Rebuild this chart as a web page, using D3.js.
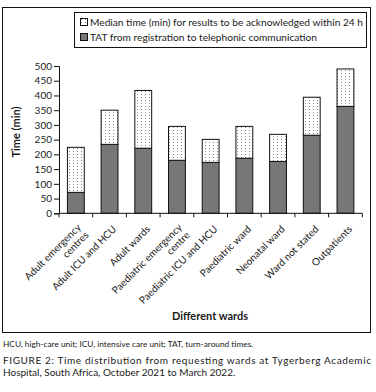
<!DOCTYPE html>
<html>
<head>
<meta charset="utf-8">
<script src="https://cdn.jsdelivr.net/npm/d3@7"></script>
<style>
  body { margin: 0; background: #fff; }
  text { font-family: Lato, "Open Sans", sans-serif; fill: #1a1a1a; }
</style>
</head>
<body>
<div id="chart-area"></div>
<script>
// data
const wards = [
  ["Adult emergency", "centres"],
  ["Adult ICU and HCU"],
  ["Adult wards"],
  ["Paediatric emergency", "centre"],
  ["Paediatric ICU and HCU"],
  ["Paediatric ward"],
  ["Neonatal ward"],
  ["Ward not stated"],
  ["Outpatients"]
];
const tatValues = [71, 234, 221, 180, 173, 187, 176, 265, 363];
const medianValues = [153, 116, 196, 115, 78, 108, 92, 129, 127];
const yTicks = [0, 50, 100, 150, 200, 250, 300, 350, 400, 450, 500];
const legendLabels = [
  "Median time (min) for results to be acknowledged within 24 h",
  "TAT from registration to telephonic communication"
];

const full_width = 376, full_height = 392;

const svg = d3.select("#chart-area")
    .append("svg")
    .attr("width", full_width)
    .attr("height", full_height);

svg.append("rect").attr("width", full_width).attr("height", full_height).attr("fill", "#fff");

// dotted pattern
const pat = svg.append("defs").append("pattern")
    .attr("id", "dots")
    .attr("patternUnits", "userSpaceOnUse")
    .attr("width", 4).attr("height", 3);
pat.append("rect").attr("width", 4).attr("height", 3).attr("fill", "#fff");
pat.append("rect").attr("x", 1).attr("y", 1).attr("width", 1).attr("height", 1).attr("fill", "#8a8a8a");

// outer frame
svg.append("rect")
    .attr("x", 2.5).attr("y", 7.5)
    .attr("width", 368).attr("height", 325)
    .attr("fill", "none").attr("stroke", "#111");

const keys = wards.map(d => d.join(" "));
const data = keys.map((k, i) => ({ ward: k, tat: tatValues[i], median: medianValues[i] }));

const x = d3.scaleBand()
    .domain(keys)
    .range([59, 362.3])
    .paddingInner(0.5)
    .paddingOuter(0.25);

const y = d3.scaleLinear()
    .domain([0, 500])
    .range([213.3, 66]);

const stack = d3.stack().keys(["tat", "median"]);
const series = stack(data);
const fills = { tat: "#777777", median: "url(#dots)" };

svg.append("g").selectAll("g")
    .data(series)
    .enter().append("g")
    .attr("fill", d => fills[d.key])
    .selectAll("rect")
    .data(d => d)
    .enter().append("rect")
        .attr("x", d => x(d.data.ward))
        .attr("y", d => y(d[1]))
        .attr("width", x.bandwidth())
        .attr("height", d => y(d[0]) - y(d[1]))
        .attr("stroke", "#111")
        .attr("stroke-width", 1);

// Y axis
const yAxisCall = d3.axisLeft(y).tickValues(yTicks).tickSize(5).tickPadding(2);
const yAxis = svg.append("g")
    .attr("transform", "translate(59,0)")
    .call(yAxisCall);
yAxis.select(".domain").attr("stroke", "#111");
yAxis.selectAll("line").attr("stroke", "#111");
yAxis.selectAll("text").attr("font-size", "10px").attr("font-family", "Lato, sans-serif").attr("fill", "#1a1a1a");

// X axis: line with ticks between categories
const xAxis = svg.append("g").attr("class", "x axis");
xAxis.append("line")
    .attr("x1", x.range()[0]).attr("x2", x.range()[1])
    .attr("y1", y(0)).attr("y2", y(0))
    .attr("stroke", "#111");
const bounds = keys.map(k => x(k) - x.step() * x.paddingInner() / 2).concat([x.range()[1]]);
xAxis.selectAll(".tk")
    .data(bounds)
    .enter().append("line")
    .attr("x1", d => d).attr("x2", d => d)
    .attr("y1", y(0)).attr("y2", y(0) + 4)
    .attr("stroke", "#111");

const lineH = 11;
const xl = xAxis.selectAll(".xlabel")
    .data(wards)
    .enter().append("text")
    .attr("font-size", "10px")
    .attr("text-anchor", "end")
    .attr("transform", (d, i) => "translate(" + (x(keys[i]) + x.bandwidth() / 2 + 5) + "," + (y(0) + 14) + ") rotate(-45)");
xl.selectAll("tspan")
    .data(d => d.map((t, j) => ({ t: t, j: j, n: d.length })))
    .enter().append("tspan")
    .attr("x", 0)
    .attr("y", d => (d.j - (d.n - 1) / 2) * lineH + (d.n - 1) * 3)
    .attr("dy", "0.35em")
    .text(d => d.t);

// axis titles
svg.append("text")
    .attr("transform", "translate(20,132) rotate(-90)")
    .attr("text-anchor", "middle")
    .attr("font-size", "11px")
    .attr("font-weight", "bold")
    .text("Time (min)");

svg.append("text")
    .attr("x", 210).attr("y", 320)
    .attr("text-anchor", "middle")
    .attr("font-size", "11px")
    .attr("font-weight", "bold")
    .text("Different wards");

// legend
const lg = svg.append("g");
lg.append("rect")
    .attr("x", 74.5).attr("y", 12.5)
    .attr("width", 292).attr("height", 35)
    .attr("fill", "#fff").attr("stroke", "#111");
const legendFills = ["url(#dots)", "#777777"];
const legendWidths = [273, 227];
legendLabels.forEach((t, i) => {
    lg.append("rect")
        .attr("x", 80.5).attr("y", 18.5 + i * 15)
        .attr("width", 7).attr("height", 7)
        .attr("fill", legendFills[i]).attr("stroke", "#111");
    lg.append("text")
        .attr("x", 90).attr("y", 25.5 + i * 15)
        .attr("font-size", "10px")
        .attr("textLength", legendWidths[i])
        .attr("lengthAdjust", "spacingAndGlyphs")
        .text(t);
});

// notes and caption
svg.append("text")
    .attr("x", 3).attr("y", 347)
    .attr("font-size", "8.3px")
    .text("HCU, high-care unit; ICU, intensive care unit; TAT, turn-around times.");

svg.append("text")
    .attr("x", 3).attr("y", 364)
    .attr("font-size", "10px")
    .attr("textLength", 368)
    .attr("lengthAdjust", "spacing")
    .text("FIGURE 2: Time distribution from requesting wards at Tygerberg Academic");

svg.append("text")
    .attr("x", 3).attr("y", 376)
    .attr("font-size", "10px")
    .text("Hospital, South Africa, October 2021 to March 2022.");
</script>
</body>
</html>
